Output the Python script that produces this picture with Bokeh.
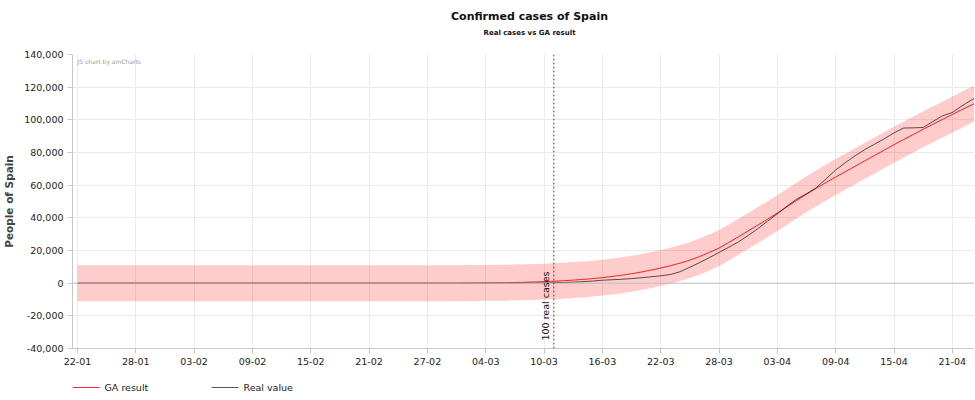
import pandas as pd
from bokeh.plotting import figure
from bokeh.layouts import column
from bokeh.models import (Range1d, FixedTicker, DatetimeTickFormatter, NumeralTickFormatter,
                          Span, Label, BoxAnnotation, ColumnDataSource)
from bokeh.embed import file_html
from bokeh.resources import INLINE

# ---------------- data ----------------
start_date = "2020-01-22"

real_values = [
    0, 0, 0, 0, 0, 0, 0, 0, 0, 0,
    0, 0, 0, 0, 0, 0, 0, 0, 0, 0,
    0, 0, 0, 0, 0, 0, 0, 0, 0, 0,
    0, 0, 0, 0, 0, 0, 0, 0, 0, 0,
    0, 0, 0, 0, 0,
    50, 100, 150, 200, 300, 450, 650, 900, 1300, 1800,
    2100, 2400, 2800, 3300, 3900, 4500, 5300, 7000, 9800, 12600,
    15600, 18800, 22000, 25300, 29200, 33400, 38000, 42500, 47200, 51500,
    54700, 58400, 63800, 69300, 73800, 78000, 81800, 85100, 88400, 92000,
    95000, 95100, 95300, 99000, 102500, 104500, 108600, 112200, 115500,
]

ga_values = [
    0, 0, 0, 0, 0, 0, 0, 0, 0, 0,
    0, 0, 0, 0, 0, 0, 0, 0, 0, 0,
    0, 0, 0, 0, 0, 0, 0, 0, 0, 0,
    0, 0, 0, 0, 0, 0, 0, 0, 0, 0,
    100, 140, 190, 240, 300, 400, 550, 750, 950, 1200,
    1500, 1900, 2300, 2800, 3400, 4100, 4900, 5800, 6800, 8000,
    9300, 10700, 12300, 14100, 16300, 18800, 21500, 24900, 28400, 32000,
    35600, 39200, 42900, 46800, 50700, 54500, 58100, 61600, 65000, 68300,
    71600, 74900, 78200, 81500, 84800, 88000, 91100, 94200, 97300, 100300,
    103300, 106300, 109200, 112100,
]

ga_error = 11000  # half-width of the shaded GA band

marker_date = "2020-03-11"
marker_label = "100 real cases"

tick_dates = ["2020-01-22", "2020-01-28", "2020-02-03", "2020-02-09", "2020-02-15",
              "2020-02-21", "2020-02-27", "2020-03-04", "2020-03-10", "2020-03-16",
              "2020-03-22", "2020-03-28", "2020-04-03", "2020-04-09", "2020-04-15",
              "2020-04-21"]
y_ticks = [-40000, -20000, 0, 20000, 40000, 60000, 80000, 100000, 120000, 140000]

title_text = "Confirmed cases of Spain"
subtitle_text = "Real cases vs GA result"
y_label = "People of Spain"
series_names = ["GA result", "Real value"]

# ---------------- build ----------------
dates = pd.date_range(start_date, periods=len(real_values), freq="D")
src = ColumnDataSource(dict(
    date=dates,
    real=real_values,
    ga=ga_values,
    upper=[v + ga_error for v in ga_values],
    lower=[v - ga_error for v in ga_values],
))

def ms(d):
    return pd.Timestamp(d).value // 10**6

day_ms = 86400000
x_start = ms(start_date) - 0.51 * day_ms
x_end = ms(start_date) + 92.28 * day_ms
shared_x = Range1d(x_start, x_end)

FONT = "DejaVu Sans"
RED = "#ff0000"
REAL_COLOR = "#000000"
GA_ALPHA = 0.85
REAL_ALPHA = 0.65

# ---- title strip ----
head = figure(width=967, height=48, output_backend="svg", toolbar_location=None,
              x_axis_location=None, y_axis_location=None,
              x_range=Range1d(0, 1), y_range=Range1d(0, 1), min_border=0)
head.outline_line_color = None
head.grid.visible = False
head.add_layout(Label(x=457, y=32, x_units="screen", y_units="screen", text=title_text,
                      text_align="center", text_baseline="middle", text_font=FONT,
                      text_font_style="bold", text_font_size="11px", text_color="#111111"))
head.add_layout(Label(x=457, y=16, x_units="screen", y_units="screen", text=subtitle_text,
                      text_align="center", text_baseline="middle", text_font=FONT,
                      text_font_style="bold", text_font_size="7px", text_color="#111111"))

# ---- main chart ----
p = figure(frame_width=902, frame_height=294, output_backend="svg", toolbar_location=None,
           x_axis_type="datetime",
           x_range=shared_x, y_range=Range1d(y_ticks[0], y_ticks[-1]),
           min_border_left=65, min_border_right=0, min_border_top=6, min_border_bottom=22)
p.outline_line_color = None

p.varea(x="date", y1="lower", y2="upper", source=src, fill_color=RED, fill_alpha=0.2)
p.add_layout(Span(location=0, dimension="width", line_color="#c4c4c4", line_width=1))
ga_line = p.line(x="date", y="ga", source=src, line_color=RED, line_width=1, line_alpha=GA_ALPHA)
real_line = p.line(x="date", y="real", source=src, line_color=REAL_COLOR, line_width=1,
                   line_alpha=REAL_ALPHA)

p.add_layout(Span(location=ms(marker_date), dimension="height", line_color="#d40000",
                  line_width=1, line_dash="2 2", line_alpha=0.9))
p.add_layout(Label(x=ms(marker_date), y=y_ticks[0], x_offset=-3, y_offset=8, text=marker_label,
                   angle=90, angle_units="deg", text_align="left", text_baseline="bottom",
                   text_font=FONT, text_font_size="9.5px", text_color="#111111"))

p.add_layout(Label(x=x_start, y=y_ticks[-1], x_offset=5, y_offset=-3, text="JS chart by amCharts",
                   text_align="left", text_baseline="top", text_font=FONT,
                   text_font_size="6px", text_color="#9a9a9a"))

xa = p.xaxis[0]
xa.ticker = FixedTicker(ticks=[ms(d) for d in tick_dates])
xa.formatter = DatetimeTickFormatter(days="%d-%m", months="%d-%m", years="%d-%m", hours="%d-%m")
ya = p.yaxis[0]
ya.ticker = FixedTicker(ticks=y_ticks)
ya.formatter = NumeralTickFormatter(format="0,0")
ya.axis_label = y_label
ya.axis_label_text_font = FONT
ya.axis_label_text_font_style = "bold"
ya.axis_label_text_font_size = "10.5px"
ya.axis_label_standoff = 6
for ax in (xa, ya):
    ax.axis_line_color = "#c8c8c8"
    ax.major_tick_line_color = "#c8c8c8"
    ax.major_tick_out = 5
    ax.major_tick_in = 0
    ax.minor_tick_line_color = None
    ax.major_label_text_font = FONT
    ax.major_label_text_font_size = "9.5px"
    ax.major_label_text_color = "#222222"
    ax.major_label_standoff = 4

p.xgrid.grid_line_color = "#ebebeb"
p.ygrid.grid_line_color = "#ebebeb"

# ---- legend strip below the chart ----
lg = figure(width=967, height=23, output_backend="svg", toolbar_location=None,
            x_axis_location=None, y_axis_location=None,
            x_range=Range1d(0, 1), y_range=Range1d(0, 1), min_border=0)
lg.outline_line_color = None
lg.grid.visible = False
legend_entries = [(series_names[0], RED, GA_ALPHA, 0), (series_names[1], REAL_COLOR, REAL_ALPHA, 139)]
for name, color, alpha, x0 in legend_entries:
    lg.add_layout(BoxAnnotation(left=x0, right=x0 + 27, bottom=5.5, top=6.5,
                                left_units="screen", right_units="screen",
                                bottom_units="screen", top_units="screen",
                                fill_color=color, fill_alpha=alpha, line_color=None))
    lg.add_layout(Label(x=x0 + 32, y=6, x_units="screen", y_units="screen", text=name,
                        text_align="left", text_baseline="middle", text_font=FONT,
                        text_font_size="9.5px", text_color="#222222"))

layout = column(head, p, lg, spacing=0)
open("out.html", "w").write(file_html(layout, INLINE))
